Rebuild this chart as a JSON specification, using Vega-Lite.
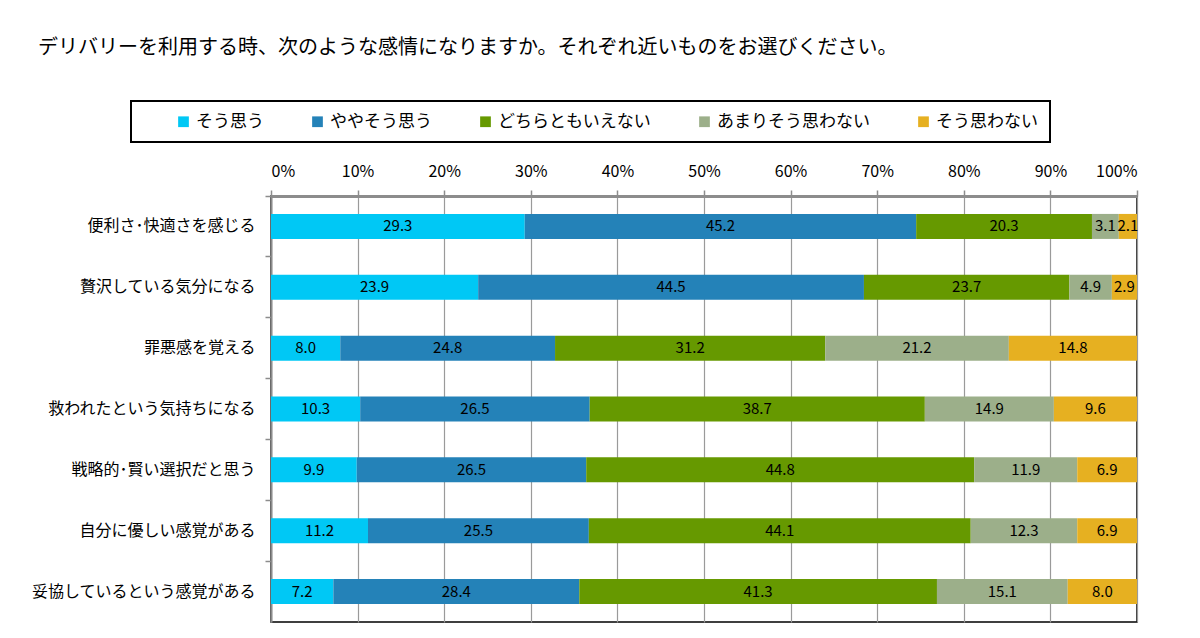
{
  "$schema": "https://vega.github.io/schema/vega-lite/v6.json",
  "width": 866,
  "height": 426,
  "autosize": {"type": "none"},
  "padding": {"left": 271, "top": 196, "right": 63, "bottom": 16},
  "background": "white",
  "title": {
    "text": "デリバリーを利用する時、次のような感情になりますか。それぞれ近いものをお選びください。",
    "anchor": "start",
    "frame": "group",
    "dx": -233,
    "fontSize": 20,
    "fontWeight": "normal",
    "color": "#000000",
    "offset": 42
  },
  "data": {
    "values": [
      {"item": "便利さ･快適さを感じる", "answer": "そう思う", "order": 1, "value": 29.3},
      {"item": "便利さ･快適さを感じる", "answer": "ややそう思う", "order": 2, "value": 45.2},
      {"item": "便利さ･快適さを感じる", "answer": "どちらともいえない", "order": 3, "value": 20.3},
      {"item": "便利さ･快適さを感じる", "answer": "あまりそう思わない", "order": 4, "value": 3.1},
      {"item": "便利さ･快適さを感じる", "answer": "そう思わない", "order": 5, "value": 2.1},
      {"item": "贅沢している気分になる", "answer": "そう思う", "order": 1, "value": 23.9},
      {"item": "贅沢している気分になる", "answer": "ややそう思う", "order": 2, "value": 44.5},
      {"item": "贅沢している気分になる", "answer": "どちらともいえない", "order": 3, "value": 23.7},
      {"item": "贅沢している気分になる", "answer": "あまりそう思わない", "order": 4, "value": 4.9},
      {"item": "贅沢している気分になる", "answer": "そう思わない", "order": 5, "value": 2.9},
      {"item": "罪悪感を覚える", "answer": "そう思う", "order": 1, "value": 8.0},
      {"item": "罪悪感を覚える", "answer": "ややそう思う", "order": 2, "value": 24.8},
      {"item": "罪悪感を覚える", "answer": "どちらともいえない", "order": 3, "value": 31.2},
      {"item": "罪悪感を覚える", "answer": "あまりそう思わない", "order": 4, "value": 21.2},
      {"item": "罪悪感を覚える", "answer": "そう思わない", "order": 5, "value": 14.8},
      {"item": "救われたという気持ちになる", "answer": "そう思う", "order": 1, "value": 10.3},
      {"item": "救われたという気持ちになる", "answer": "ややそう思う", "order": 2, "value": 26.5},
      {"item": "救われたという気持ちになる", "answer": "どちらともいえない", "order": 3, "value": 38.7},
      {"item": "救われたという気持ちになる", "answer": "あまりそう思わない", "order": 4, "value": 14.9},
      {"item": "救われたという気持ちになる", "answer": "そう思わない", "order": 5, "value": 9.6},
      {"item": "戦略的･賢い選択だと思う", "answer": "そう思う", "order": 1, "value": 9.9},
      {"item": "戦略的･賢い選択だと思う", "answer": "ややそう思う", "order": 2, "value": 26.5},
      {"item": "戦略的･賢い選択だと思う", "answer": "どちらともいえない", "order": 3, "value": 44.8},
      {"item": "戦略的･賢い選択だと思う", "answer": "あまりそう思わない", "order": 4, "value": 11.9},
      {"item": "戦略的･賢い選択だと思う", "answer": "そう思わない", "order": 5, "value": 6.9},
      {"item": "自分に優しい感覚がある", "answer": "そう思う", "order": 1, "value": 11.2},
      {"item": "自分に優しい感覚がある", "answer": "ややそう思う", "order": 2, "value": 25.5},
      {"item": "自分に優しい感覚がある", "answer": "どちらともいえない", "order": 3, "value": 44.1},
      {"item": "自分に優しい感覚がある", "answer": "あまりそう思わない", "order": 4, "value": 12.3},
      {"item": "自分に優しい感覚がある", "answer": "そう思わない", "order": 5, "value": 6.9},
      {"item": "妥協しているという感覚がある", "answer": "そう思う", "order": 1, "value": 7.2},
      {"item": "妥協しているという感覚がある", "answer": "ややそう思う", "order": 2, "value": 28.4},
      {"item": "妥協しているという感覚がある", "answer": "どちらともいえない", "order": 3, "value": 41.3},
      {"item": "妥協しているという感覚がある", "answer": "あまりそう思わない", "order": 4, "value": 15.1},
      {"item": "妥協しているという感覚がある", "answer": "そう思わない", "order": 5, "value": 8.0}
    ]
  },
  "transform": [
    {
      "stack": "value",
      "groupby": ["item"],
      "sort": [{"field": "order", "order": "ascending"}],
      "offset": "normalize",
      "as": ["v0", "v1"]
    },
    {"calculate": "(datum.v0 + datum.v1) / 2", "as": "mid"}
  ],
  "encoding": {
    "y": {
      "field": "item",
      "type": "nominal",
      "sort": [
        "便利さ･快適さを感じる",
        "贅沢している気分になる",
        "罪悪感を覚える",
        "救われたという気持ちになる",
        "戦略的･賢い選択だと思う",
        "自分に優しい感覚がある",
        "妥協しているという感覚がある"
      ],
      "scale": {"paddingInner": 0, "paddingOuter": 0},
      "axis": {
        "title": null,
        "orient": "left",
        "bandPosition": 0,
        "domainColor": "#8c8c8c",
        "domainWidth": 2,
        "tickColor": "#8c8c8c",
        "tickWidth": 1.5,
        "tickSize": 6,
        "labelPadding": 10,
        "labelFontSize": 16,
        "labelColor": "#000000",
        "labelLimit": 400,
        "grid": false
      }
    }
  },
  "layer": [
    {
      "mark": {"type": "bar", "height": 25},
      "encoding": {
        "x": {
          "field": "v0",
          "type": "quantitative",
          "scale": {"domain": [0, 1], "nice": false},
          "axis": {
            "title": null,
            "orient": "top",
            "values": [0, 0.1, 0.2, 0.3, 0.4, 0.5, 0.6, 0.7, 0.8, 0.9, 1],
            "format": ".0%",
            "grid": true,
            "gridColor": "#9a9a9a",
            "gridWidth": 1.2,
            "domainColor": "#8c8c8c",
            "domainWidth": 3,
            "tickColor": "#8c8c8c",
            "tickWidth": 1.5,
            "tickSize": 6,
            "labelPadding": 11,
            "labelFontSize": 16,
            "labelColor": "#000000"
          }
        },
        "x2": {"field": "v1"},
        "color": {
          "field": "answer",
          "type": "nominal",
          "scale": {
            "domain": ["そう思う", "ややそう思う", "どちらともいえない", "あまりそう思わない", "そう思わない"],
            "range": ["#00c8f5", "#2482b8", "#669900", "#9caf8a", "#e6b021"]
          },
          "legend": {
            "title": null,
            "orient": "none",
            "legendX": -140,
            "legendY": -95,
            "direction": "horizontal",
            "columns": 5,
            "padding": 12,
            "symbolOffset": 32,
            "columnPadding": 13,
            "strokeColor": "#000000",
            "symbolType": "square",
            "symbolSize": 115,
            "symbolStrokeWidth": 0,
            "labelOffset": 4,
            "labelFontSize": 17,
            "labelColor": "#000000"
          }
        }
      }
    },
    {
      "mark": {"type": "text", "fontSize": 15, "color": "#000000", "align": "center", "baseline": "middle"},
      "encoding": {
        "x": {"field": "mid", "type": "quantitative"},
        "text": {"field": "value", "type": "quantitative", "format": ".1f"}
      }
    }
  ],
  "config": {
    "font": "Noto Sans CJK JP",
    "view": {"stroke": "#000000", "strokeWidth": 1.5},
    "legend": {"strokeWidth": 2}
  }
}
